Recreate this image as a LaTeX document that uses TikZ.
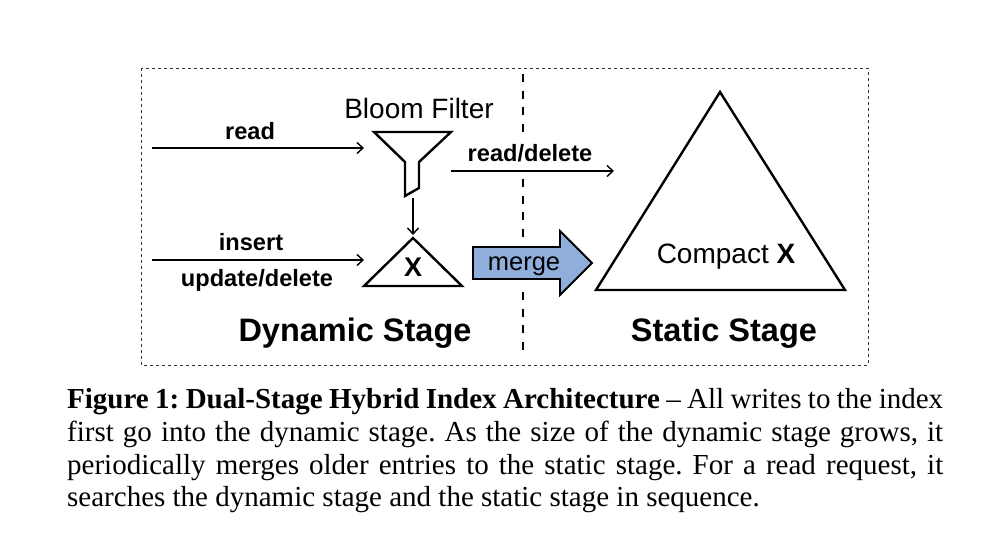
\documentclass[tikz,border=0pt]{standalone}
\usepackage{fontspec}
\setmainfont{Liberation Serif}
\setsansfont{Liberation Sans}
\usepackage{tikz}
\usetikzlibrary{arrows.meta}
\definecolor{mergeblue}{RGB}{143,174,220}
\tikzstyle{lbl} = [font=\sffamily\bfseries\fontsize{23.6}{26}\selectfont, inner sep=0pt]
\tikzstyle{stage} = [font=\sffamily\bfseries\fontsize{32.5}{36}\selectfont, inner sep=0pt]
\tikzstyle{plain} = [font=\sffamily\fontsize{28}{30}\selectfont, inner sep=0pt]
\tikzstyle{outline} = [line width=2.4pt, line join=miter]
\tikzstyle{arrow} = [line width=1.4pt,-{Straight Barb[length=6pt,width=11pt]}]
\tikzstyle{divider} = [line width=2.2pt, dash pattern=on 8pt off 8.5pt]
\tikzstyle{caption} = [font=\fontsize{29}{32.7}\selectfont, inner sep=0pt, anchor=north west, text width=876pt, align=justify]
\frenchspacing
\begin{document}
\begin{tikzpicture}[x=1pt,y=-1pt]
\useasboundingbox (0,0) rectangle (982,546);
\fill[white] (0,0) rectangle (982,546);
% frame and divider
\draw[dashed, line width=0.8pt, black!80] (141,68) rectangle (868,365);
\coordinate (divtop) at (523,74);
\coordinate (divend1) at (523,133);
\coordinate (divstart2) at (523,179);
\coordinate (divend2) at (523,237);
\coordinate (divstart3) at (523,292);
\coordinate (divbot) at (523,351);
\draw[divider] (divtop) -- (divend1);
\draw[divider] (divstart2) -- (divend2);
\draw[divider] (divstart3) -- (divbot);
% bloom filter
\node (bloom) [plain] at (419,108) {Bloom Filter};
\draw[outline] (374,132) -- (451,132) -- (419,162) -- (419,188) -- (405,196) -- (405,162) -- cycle;
\coordinate (funnel) at (413,198);
\coordinate (funnelin) at (364,148);
\coordinate (rdin) at (152,148);
\coordinate (rdout) at (451,171);
\coordinate (rdend) at (614,171);
\node (read) [lbl] at (250,131) {read};
\draw[arrow] (rdin) -- (funnelin);
\node (rddel) [lbl] at (530,153) {read/delete};
\draw[arrow] (rdout) -- (rdend);
% dynamic tree
\draw[outline] (413,238) -- (462,286) -- (364,286) -- cycle;
\node (x) [font=\sffamily\bfseries\fontsize{27}{29}\selectfont, inner sep=0pt] at (413,267) {X};
\coordinate (xtop) at (413,235);
\draw[arrow] (funnel) -- (xtop);
\coordinate (insin) at (152,260);
\coordinate (insout) at (364,260);
\node (insert) [lbl] at (251,242) {insert};
\node (upd) [lbl] at (257,280) {update/delete};
\draw[arrow] (insin) -- (insout);
% merge
\draw[line width=1.8pt, fill=mergeblue, line join=miter] (473,247) -- (560,247) -- (560,231) -- (592,263) -- (560,295) -- (560,279) -- (473,279) -- cycle;
\node (merge) [font=\sffamily\fontsize{25.5}{28}\selectfont, inner sep=0pt] at (524,266) {merge};
% static tree
\draw[outline] (720,92) -- (845,290) -- (596,290) -- cycle;
\node (compact) [plain] at (726,257) {Compact \textbf{X}};
\node (dyn) [stage] at (355,333) {Dynamic Stage};
\node (sta) [stage] at (724,333) {Static Stage};
% caption
\node (cap) [caption] at (67,388.5) {\textbf{Figure 1: Dual-Stage Hybrid Index Architecture} -- All writes to the index first go into the dynamic stage. As the size of the dynamic stage grows, it periodically merges older entries to the static stage. For a read request, it searches the dynamic stage and the static stage in sequence.};
\end{tikzpicture}
\end{document}
